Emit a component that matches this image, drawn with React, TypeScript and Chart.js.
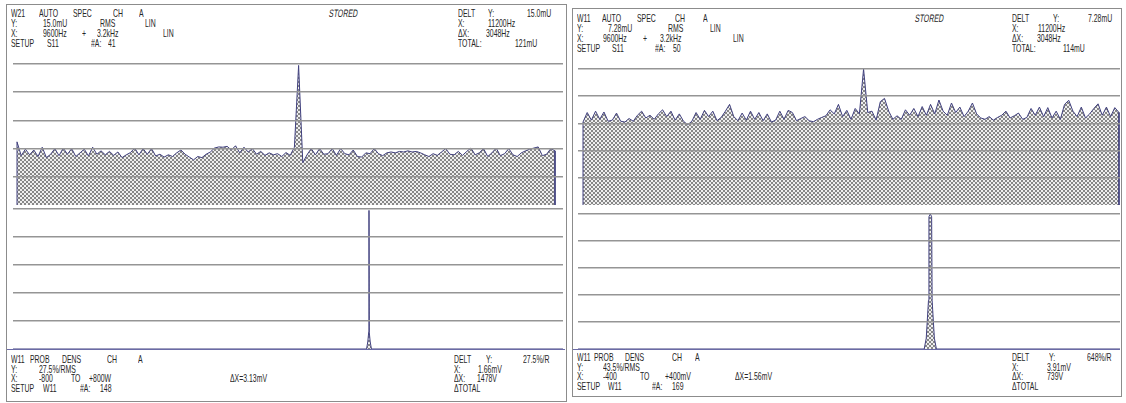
import React, { useEffect, useRef } from 'react';
import { Chart, registerables } from 'chart.js';
Chart.register(...registerables);

// ---------------- DATA ----------------
const FREQ_START = 9600; // Hz
const FREQ_STEP = 25; // Hz per spectral line

const leftSpectrum = [
  2.24, 1.75, 1.98, 1.78, 1.95, 1.72, 2.05, 1.68, 1.80, 2.00,
  1.75, 2.02, 1.80, 2.00, 1.72, 1.85, 1.98, 1.74, 2.05, 1.80,
  1.92, 1.78, 1.90, 1.76, 1.88, 1.68, 1.78, 1.86, 2.02, 1.78,
  2.00, 1.80, 2.00, 1.74, 1.80, 1.70, 1.78, 1.72, 1.85, 1.95,
  1.80, 1.70, 1.60, 1.72, 1.68, 1.80, 1.88, 2.02, 2.06, 2.05,
  2.08, 1.95, 2.10, 1.85, 2.05, 1.88, 2.00, 1.80, 1.90, 1.76,
  1.85, 1.78, 1.82, 1.72, 1.86, 1.76, 2.05, 4.95, 1.50, 1.78,
  2.00, 1.78, 2.00, 1.80, 1.82, 2.00, 1.76, 2.00, 1.82, 1.78,
  1.95, 1.72, 1.70, 1.85, 1.82, 2.00, 1.82, 1.75, 1.85, 1.88,
  1.85, 1.90, 1.88, 1.92, 1.88, 1.90, 1.85, 1.78, 1.72, 1.82,
  1.76, 1.88, 2.00, 1.80, 1.78, 1.90, 1.76, 1.90, 2.02, 1.78,
  1.85, 2.00, 1.72, 1.85, 2.02, 1.75, 1.82, 2.00, 1.78, 1.72,
  1.85, 1.92, 1.98, 2.02, 2.06, 1.75, 1.80, 2.00, 1.92,
];

const rightSpectrum = [
  3.05, 3.40, 3.12, 3.45, 3.15, 3.42, 3.08, 3.12, 3.38, 3.08,
  3.05, 3.18, 3.08, 3.30, 3.45, 3.20, 3.30, 3.15, 3.35, 3.50,
  3.25, 3.45, 3.12, 3.35, 3.08, 2.95, 3.08, 3.40, 3.15, 3.48,
  3.25, 3.45, 3.10, 3.22, 3.45, 3.70, 3.25, 3.10, 3.38, 3.12,
  3.45, 3.15, 3.40, 3.10, 3.35, 3.05, 3.12, 3.45, 3.15, 3.48,
  3.40, 3.10, 3.18, 3.25, 3.10, 3.06, 3.15, 3.22, 3.28, 3.50,
  3.35, 3.70, 3.25, 3.48, 3.15, 3.55, 3.35, 5.00, 3.40, 3.45,
  3.12, 3.80, 3.92, 3.45, 3.15, 3.28, 3.15, 3.50, 3.30, 3.55,
  3.25, 3.62, 3.30, 3.70, 3.35, 3.86, 3.45, 3.30, 3.75, 3.40,
  3.60, 3.25, 3.45, 3.75, 3.35, 3.20, 3.15, 3.25, 3.12, 3.22,
  3.30, 3.45, 3.20, 3.28, 3.38, 3.15, 3.22, 3.55, 3.30, 3.60,
  3.25, 3.58, 3.20, 3.45, 3.15, 3.70, 3.85, 3.45, 3.25, 3.60,
  3.20, 3.35, 3.55, 3.72, 3.30, 3.60, 3.25, 3.58, 3.40,
];

// probability density (x in mV, y in divisions)
const leftPdfX = [-800, 228.5, 232, 234.8, 235.6, 236.4, 239.2, 242.7, 800];
const leftPdfY = [0, 0, 0.25, 0.6, 4.95, 0.6, 0.25, 0, 0];
const rightPdfX = [-400, 111, 114, 117.3, 118, 120, 122, 122.7, 126, 129, 400];
const rightPdfY = [0, 0, 0.4, 1.8, 4.9, 5.0, 4.9, 1.8, 0.4, 0, 0];

// text blocks: [text, x, row, italic]
const LEFT_TEXT: [string, number, number, boolean?][] = [
  ['W21', 11, 0], ['AUTO', 39, 0], ['SPEC', 73, 0], ['CH', 113, 0], ['A', 139, 0],
  ['STORED', 330, 0, true], ['DELT', 458, 0], ['Y:', 488, 0], ['15.0mU', 527, 0],
  ['Y:', 11, 1], ['15.0mU', 43, 1], ['RMS', 100, 1], ['LIN', 145, 1], ['X:', 458, 1], ['11200Hz', 488, 1],
  ['X:', 11, 2], ['9600Hz', 43, 2], ['+', 82, 2], ['3.2kHz', 97, 2], ['LIN', 163, 2], ['ΔX:', 458, 2], ['3048Hz', 486, 2],
  ['SETUP', 11, 3], ['S11', 47, 3], ['#A:', 91, 3], ['41', 108, 3], ['TOTAL:', 458, 3], ['121mU', 515, 3],
];
const LEFT_FOOT: [string, number, number, boolean?][] = [
  ['W11', 11, 0], ['PROB', 30, 0], ['DENS', 62, 0], ['CH', 107, 0], ['A', 138, 0],
  ['DELT', 454, 0], ['Y:', 486, 0], ['27.5%/R', 523, 0],
  ['Y:', 11, 1], ['27.5%/RMS', 39, 1], ['X:', 454, 1], ['1.66mV', 478, 1],
  ['X:', 11, 2], ['-800', 39, 2], ['TO', 71, 2], ['+800W', 89, 2], ['ΔX=3.13mV', 230, 2], ['ΔX:', 454, 2], ['1478V', 477, 2],
  ['SETUP', 11, 3], ['W11', 43, 3], ['#A:', 80, 3], ['148', 100, 3], ['ΔTOTAL', 454, 3],
];
const RIGHT_TEXT: [string, number, number, boolean?][] = [
  ['W11', 577, 0], ['AUTO', 602, 0], ['SPEC', 637, 0], ['CH', 675, 0], ['A', 703, 0],
  ['STORED', 916, 0, true], ['DELT', 1012, 0], ['Y:', 1053, 0], ['7.28mU', 1088, 0],
  ['Y:', 577, 1], ['7.28mU', 608, 1], ['RMS', 668, 1], ['LIN', 710, 1], ['X:', 1012, 1], ['11200Hz', 1038, 1],
  ['X:', 577, 2], ['9600Hz', 603, 2], ['+', 643, 2], ['3.2kHz', 660, 2], ['LIN', 733, 2], ['ΔX:', 1012, 2], ['3048Hz', 1037, 2],
  ['SETUP', 577, 3], ['S11', 612, 3], ['#A:', 655, 3], ['50', 673, 3], ['TOTAL:', 1012, 3], ['114mU', 1063, 3],
];
const RIGHT_FOOT: [string, number, number, boolean?][] = [
  ['W11', 577, 0], ['PROB', 594, 0], ['DENS', 625, 0], ['CH', 672, 0], ['A', 695, 0],
  ['DELT', 1012, 0], ['Y:', 1049, 0], ['648%/R', 1087, 0],
  ['Y:', 577, 1], ['43.5%/RMS', 603, 1], ['X:', 1012, 1], ['3.91mV', 1047, 1],
  ['X:', 577, 2], ['-400', 603, 2], ['TO', 640, 2], ['+400mV', 665, 2], ['ΔX=1.56mV', 735, 2], ['ΔX:', 1012, 2], ['739V', 1047, 2],
  ['SETUP', 577, 3], ['W11', 608, 3], ['#A:', 652, 3], ['169', 672, 3], ['ΔTOTAL', 1012, 3],
];

// ---------------- STYLE ----------------
const NAVY = '#41417f';
const GRID = '#959595';
const FONT = '"Liberation Sans", Arial, sans-serif';

function makePattern(ctx: CanvasRenderingContext2D) {
  const pc = document.createElement('canvas');
  pc.width = 4;
  pc.height = 4;
  const g = pc.getContext('2d')!;
  g.fillStyle = '#efefef';
  g.fillRect(0, 0, 4, 4);
  g.fillStyle = '#878787';
  for (let i = 0; i < 4; i++) {
    g.fillRect(i, i, 1, 1);
    g.fillRect(3 - i, i, 1, 1);
  }
  return ctx.createPattern(pc, 'repeat')!;
}

function baseOptions(xMin: number, xMax: number): any {
  return {
    responsive: false,
    animation: false,
    events: [],
    layout: { padding: 2 },
    plugins: { legend: { display: false }, tooltip: { enabled: false }, title: { display: false } },
    scales: {
      x: { type: 'linear', min: xMin, max: xMax, display: false },
      y: {
        type: 'linear',
        min: 0,
        max: 5,
        ticks: { display: false, stepSize: 1 },
        border: { display: false },
        grid: {
          z: 1,
          drawTicks: false,
          lineWidth: 1.5,
          color: (c: any) => (c.tick && c.tick.value === 0 ? 'rgba(0,0,0,0)' : GRID),
        },
      },
    },
  };
}

function spectrumConfig(values: number[], xMin: number, xMax: number) {
  return (pattern: CanvasPattern) => {
    const xEnd = FREQ_START + (values.length - 1) * FREQ_STEP;
    const pts = [
      { x: FREQ_START, y: 0 },
      ...values.map((v, i) => ({ x: FREQ_START + i * FREQ_STEP, y: v })),
      { x: xEnd, y: 0 },
    ];
    return {
      type: 'line',
      data: {
        datasets: [
          { data: pts, borderColor: NAVY, borderWidth: 1, backgroundColor: pattern, fill: 'origin', pointRadius: 0, tension: 0 },
          { data: [{ x: FREQ_START, y: 0 }, { x: xEnd, y: 0 }], borderColor: NAVY, borderWidth: 1.5, pointRadius: 0, fill: false },
        ],
      },
      options: baseOptions(xMin, xMax),
    };
  };
}

function pdfConfig(xs: number[], ys: number[], xMin: number, xMax: number) {
  return (pattern: CanvasPattern) => ({
    type: 'line',
    data: {
      datasets: [
        {
          data: xs.map((x, i) => ({ x, y: ys[i] })),
          borderColor: NAVY,
          borderWidth: 1,
          backgroundColor: pattern,
          fill: 'origin',
          pointRadius: 0,
          tension: 0,
        },
      ],
    },
    options: baseOptions(xMin, xMax),
  });
}

function ChartCanvas({ left, top, width, height, build }: { left: number; top: number; width: number; height: number; build: (p: CanvasPattern) => any }) {
  const ref = useRef<HTMLCanvasElement>(null);
  useEffect(() => {
    const canvas = ref.current!;
    const ctx = canvas.getContext('2d')!;
    const chart = new Chart(ctx, build(makePattern(ctx)));
    return () => chart.destroy();
  }, []);
  return <canvas ref={ref} width={width} height={height} style={{ position: 'absolute', left, top, width, height }} />;
}

function TextBlock({ items, top, step }: { items: [string, number, number, boolean?][]; top: number; step: number }) {
  return (
    <>
      {items.map(([t, x, row, italic], i) => (
        <span
          key={i}
          style={{
            position: 'absolute',
            left: x,
            top: top + row * step,
            fontFamily: FONT,
            fontSize: 10.8,
            lineHeight: '10px',
            color: '#262626',
            whiteSpace: 'pre',
            transform: italic ? 'scaleX(0.64) skewX(-14deg)' : 'scaleX(0.64)',
            transformOrigin: 'left top',
          }}
        >
          {t}
        </span>
      ))}
    </>
  );
}

export default function App() {
  return (
    <div style={{ position: 'fixed', left: 0, top: 0, width: 1126, height: 403, background: '#ffffff', overflow: 'hidden' }}>
      {/* panel frames */}
      <div style={{ position: 'absolute', left: 6, top: 4, width: 559, height: 396, border: '1px solid #8c8c8c' }} />
      <div style={{ position: 'absolute', left: 572, top: 8, width: 548, height: 387, border: '1px solid #8c8c8c' }} />
      {/* separators (zero line of density plots) */}
      <div style={{ position: 'absolute', left: 7, top: 349, width: 558, height: 0, borderTop: '1px solid #6a6aa6' }} />
      <div style={{ position: 'absolute', left: 573, top: 349, width: 547, height: 0, borderTop: '1px solid #6a6aa6' }} />

      <ChartCanvas left={11} top={62} width={554} height={145} build={spectrumConfig(leftSpectrum, 9576.2, 12847.6)} />
      <ChartCanvas left={11} top={207} width={554} height={144} build={pdfConfig(leftPdfX, leftPdfY, -800, 800)} />
      <ChartCanvas left={576} top={67} width={546} height={140} build={spectrumConfig(rightSpectrum, 9570.1, 12806)} />
      <ChartCanvas left={576} top={212} width={546} height={139} build={pdfConfig(rightPdfX, rightPdfY, -400, 400)} />

      <TextBlock items={LEFT_TEXT} top={8} step={10} />
      <TextBlock items={LEFT_FOOT} top={354} step={9.6} />
      <TextBlock items={RIGHT_TEXT} top={13} step={10} />
      <TextBlock items={RIGHT_FOOT} top={352} step={9.6} />
    </div>
  );
}
